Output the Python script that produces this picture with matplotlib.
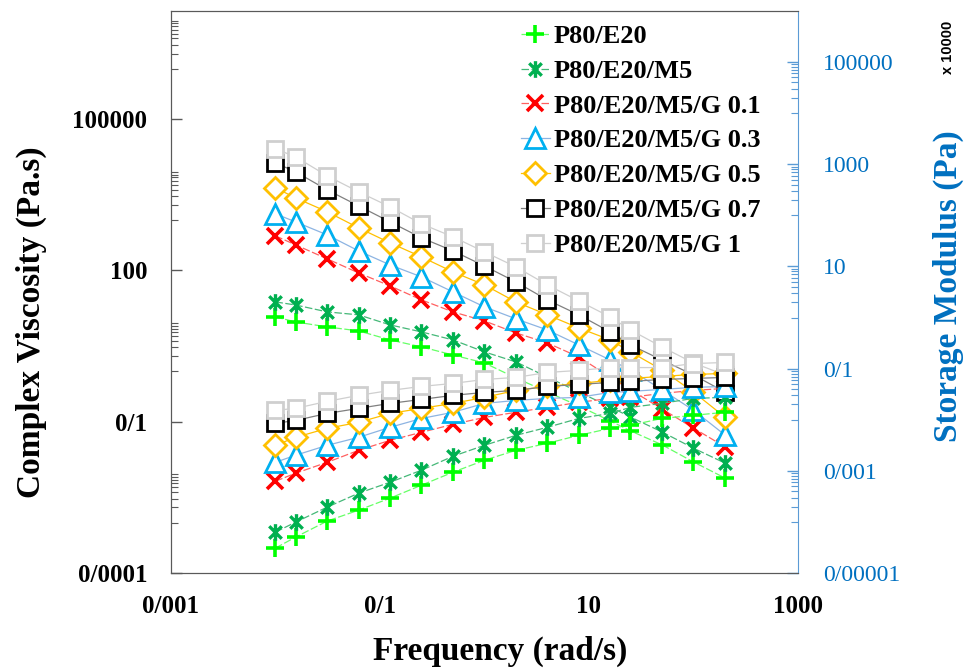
import matplotlib.pyplot as plt
from matplotlib.path import Path
from matplotlib.ticker import FixedLocator, FixedFormatter, NullFormatter

# frequency sweep (rad/s)
freq = [0.01, 0.0156, 0.0313, 0.0625, 0.125, 0.25, 0.5, 1, 2, 4, 8, 16, 25, 50, 100, 200]

names = ['P80/E20', 'P80/E20/M5', 'P80/E20/M5/G 0.1', 'P80/E20/M5/G 0.3',
         'P80/E20/M5/G 0.5', 'P80/E20/M5/G 0.7', 'P80/E20/M5/G 1']

# complex viscosity (Pa.s) - left axis
eta_pe = [12.0, 9.55, 7.60, 6.34, 4.20, 3.05, 2.11, 1.47, 0.74, 0.39, 0.206, 0.104, 0.066, 0.035, 0.016, 0.0077]
eta_m5 = [23.8, 20.7, 15.1, 13.2, 8.34, 6.05, 4.20, 2.43, 1.54, 0.77, 0.39, 0.197, 0.124, 0.063, 0.030, 0.0152]
eta_g01 = [486, 322, 170, 89.5, 49.4, 26.1, 15.1, 10.0, 5.78, 3.66, 1.93, 0.77, 0.43, 0.18, 0.075, 0.032]
eta_g03 = [1330, 920, 508, 245, 129, 74.6, 37.6, 19.0, 11.0, 6.62, 3.34, 1.68, 1.07, 0.43, 0.17, 0.055]
eta_g05 = [4360, 2750, 1460, 700, 353, 186, 93.8, 51.8, 23.8, 13.2, 7.26, 4.20, 2.43, 1.07, 0.39, 0.124]
eta_g07 = [13600, 9040, 3970, 1910, 920, 444, 245, 123, 59.4, 26.1, 13.2, 6.05, 3.34, 1.68, 0.85, 0.39]
eta_g1 = [25900, 17900, 7530, 3630, 1830, 841, 465, 234, 118, 51.8, 24.9, 12.0, 6.62, 3.05, 1.47, 0.85]

# storage modulus (Pa) - right axis
gp_pe = [3.08e-5, 5.05e-5, 1.04e-4, 1.70e-4, 2.92e-4, 5.24e-4, 9.4e-4, 1.61e-3, 2.52e-3, 3.46e-3, 4.95e-3, 6.79e-3, 7.78e-3, 1.06e-2, 1.22e-2, 1.40e-2]
gp_m5 = [6.32e-5, 9.9e-5, 1.95e-4, 3.65e-4, 5.98e-4, 1.03e-3, 1.93e-3, 3.16e-3, 4.95e-3, 7.11e-3, 1.06e-2, 1.33e-2, 1.75e-2, 2.09e-2, 2.62e-2, 2.74e-2]
gp_g01 = [6.27e-4, 8.98e-4, 1.47e-3, 2.52e-3, 3.96e-3, 5.68e-3, 8.13e-3, 1.11e-2, 1.40e-2, 1.75e-2, 2.19e-2, 2.62e-2, 2.74e-2, 3.28e-2, 3.75e-2, 4.10e-2]
gp_g03 = [1.47e-3, 2.02e-3, 3.16e-3, 4.53e-3, 7.11e-3, 1.06e-2, 1.40e-2, 2.09e-2, 2.39e-2, 2.62e-2, 2.74e-2, 3.43e-2, 3.59e-2, 3.93e-2, 4.30e-2, 4.49e-2]
gp_g05 = [3.16e-3, 4.53e-3, 6.79e-3, 8.89e-3, 1.33e-2, 1.67e-2, 2.09e-2, 2.74e-2, 3.75e-2, 4.49e-2, 5.14e-2, 5.89e-2, 6.44e-2, 7.05e-2, 7.71e-2, 8.05e-2]
gp_g07 = [8.5e-3, 9.7e-3, 1.33e-2, 1.67e-2, 2.09e-2, 2.50e-2, 3.00e-2, 3.43e-2, 3.75e-2, 4.49e-2, 4.91e-2, 5.37e-2, 5.62e-2, 6.15e-2, 6.44e-2, 6.73e-2]
gp_g1 = [1.53e-2, 1.67e-2, 2.29e-2, 3.00e-2, 3.75e-2, 4.49e-2, 5.14e-2, 6.15e-2, 6.73e-2, 8.43e-2, 9.23e-2, 0.105, 0.105, 0.105, 0.126, 0.132]

eta_all = [eta_pe, eta_m5, eta_g01, eta_g03, eta_g05, eta_g07, eta_g1]
gp_all = [gp_pe, gp_m5, gp_g01, gp_g03, gp_g05, gp_g07, gp_g1]

x_ticks = [1e-3, 1e-1, 10, 1e3]
x_labels = ['0/001', '0/1', '10', '1000']
yl_ticks = [1e-4, 1e-1, 1e2, 1e5]
yl_labels = ['0/0001', '0/1', '100', '100000']
yr_ticks = [1e-5, 1e-3, 1e-1, 10, 1e3, 1e5]
yr_labels = ['0/00001', '0/001', '0/1', '10', '1000', '100000']

# excel style asterisk: X with a vertical bar
star = Path([(0, -1), (0, 1), (-0.75, -0.75), (0.75, 0.75), (-0.75, 0.75), (0.75, -0.75)],
            [Path.MOVETO, Path.LINETO, Path.MOVETO, Path.LINETO, Path.MOVETO, Path.LINETO])

styles = [
    dict(marker='+', ms=13, mew=2.6, mec='#00FF00', color='#66FF66', ls=(0, (6, 2))),
    dict(marker=star, ms=12, mew=2.4, mec='#00B050', color='#45B878', ls=(0, (6, 2))),
    dict(marker='x', ms=11, mew=2.6, mec='#FF0000', color='#FF6060', ls=(0, (6, 2))),
    dict(marker='^', ms=14, mew=2.0, mec='#00B0F0', mfc='white', color='#8DB4E2', ls='-'),
    dict(marker='D', ms=11, mew=2.0, mec='#FFC000', mfc='white', color='#FFC000', ls='-'),
    dict(marker='s', ms=12, mew=2.0, mec='#000000', mfc='white', color='#808080', ls='-'),
    dict(marker='s', ms=12, mew=2.0, mec='#CFCFCF', mfc='white', color='#CFCFCF', ls='-'),
]

plt.rcParams['font.family'] = ['Liberation Serif', 'DejaVu Serif']

fig = plt.figure(figsize=(9.78, 6.71), dpi=100)
ax = fig.add_axes([0.1748, 0.146, 0.641, 0.8376])
ax2 = ax.twinx()

handles = []
for i in range(len(names)):
    h, = ax.plot(freq, eta_all[i], lw=0.9, label=names[i], **styles[i])
    handles.append(h)
    ax2.plot(freq, gp_all[i], lw=0.9, **styles[i])

ax.set_xscale('log')
ax.set_yscale('log')
ax2.set_yscale('log')
ax.set_xlim(1e-3, 1e3)
ax.set_ylim(1e-4, 1.4e7)
ax2.set_ylim(1e-5, 1e6)

ax.xaxis.set_major_locator(FixedLocator(x_ticks))
ax.xaxis.set_major_formatter(FixedFormatter(x_labels))
ax.xaxis.set_minor_formatter(NullFormatter())
ax.tick_params(axis='x', which='both', length=0, pad=16, labelsize=18)

minor_l = [k * 10.0 ** (a + 1) for a in [-4, -1, 2, 5] for k in range(1, 10)]
ax.yaxis.set_major_locator(FixedLocator(yl_ticks))
ax.yaxis.set_major_formatter(FixedFormatter(yl_labels))
ax.yaxis.set_minor_locator(FixedLocator(minor_l))
ax.yaxis.set_minor_formatter(NullFormatter())
ax.tick_params(axis='y', which='major', direction='in', length=8, width=1,
               color='#595959', pad=17, labelsize=18)
ax.tick_params(axis='y', which='minor', direction='in', length=5, width=0.8, color='#595959')
for t in ax.get_xticklabels() + ax.get_yticklabels():
    t.set_fontweight('bold')

minor_r = [k * 10.0 ** (a + 1) for a in [-5, -3, -1, 1, 3] for k in range(1, 10)]
ax2.yaxis.set_major_locator(FixedLocator(yr_ticks))
ax2.yaxis.set_major_formatter(FixedFormatter(yr_labels))
ax2.yaxis.set_minor_locator(FixedLocator(minor_r))
ax2.yaxis.set_minor_formatter(NullFormatter())
ax2.tick_params(axis='y', which='major', direction='in', length=8, width=1,
                color='#5B9BD5', labelcolor='#0070C0', pad=18, labelsize=17)
ax2.tick_params(axis='y', which='minor', direction='in', length=5, width=0.8, color='#5B9BD5')

for s in ['left', 'bottom', 'top']:
    ax.spines[s].set_color('#595959')
    ax2.spines[s].set_color('#595959')
ax2.spines['right'].set_color('#5B9BD5')
ax.spines['right'].set_visible(False)

ax.set_xlabel('Frequency (rad/s)', fontsize=24, fontweight='bold')
ax.xaxis.set_label_coords(0.525, -0.112)
ax.set_ylabel('Complex Viscosity (Pa.s)', fontsize=24, fontweight='bold')
ax.yaxis.set_label_coords(-0.198, 0.447)
ax2.set_ylabel('Storage Modulus (Pa)', fontsize=24, fontweight='bold', color='#0070C0')
ax2.yaxis.set_label_coords(1.215, 0.511)

fig.text(948 / 978, 1 - 47 / 671, 'x 10000', rotation=90, ha='center', va='center',
         fontsize=10.5, fontweight='bold', family='Liberation Sans')

leg = ax2.legend(handles, names, loc='upper left', bbox_to_anchor=(0.558, 0.976),
                 frameon=False, borderpad=0, borderaxespad=0, handlelength=1.1,
                 handletextpad=0.15, labelspacing=0.43, prop={'weight': 'bold', 'size': 19})

fig.savefig('out.png', dpi=100)
